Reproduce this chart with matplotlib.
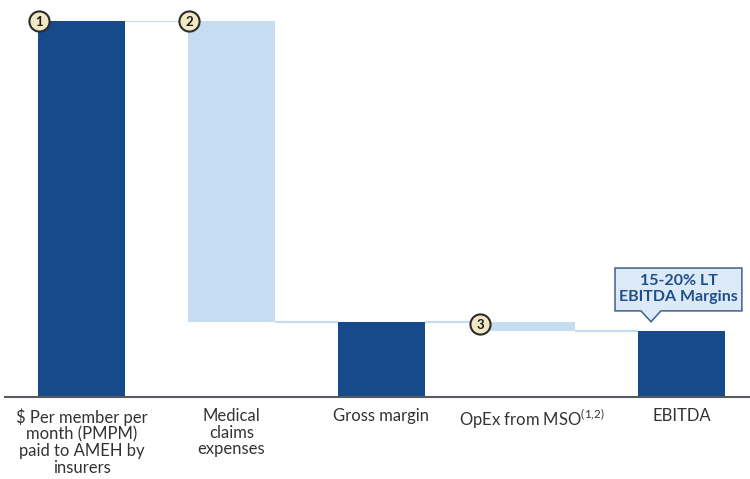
import matplotlib
matplotlib.use("Agg")
import matplotlib.pyplot as plt
from matplotlib.patches import Polygon

plt.rcParams['font.family'] = ['Lato', 'DejaVu Sans']
plt.rcParams['mathtext.fontset'] = 'custom'
plt.rcParams['mathtext.rm'] = 'Lato'
plt.rcParams['mathtext.it'] = 'Lato'

categories = [
    "$ Per member per\nmonth (PMPM)\npaid to AMEH by\ninsurers",
    "Medical\nclaims\nexpenses",
    "Gross margin",
    r"OpEx from MSO$^{\mathrm{(1{,}2)}}$",
    "EBITDA",
]
values = [100, 80, 20, 2.5, 17.5]
kinds = ["total", "decrease", "total", "decrease", "total"]
markers = {0: "1", 1: "2", 3: "3"}
callout_text = "15-20% LT\nEBITDA Margins"

DARK = "#164a8a"
LIGHT = "#c6dcf0"
BAR_W = 0.58

# waterfall bottoms/tops
bottoms, tops = [], []
running = 0
for v, k in zip(values, kinds):
    if k == "total":
        bottoms.append(0)
        tops.append(v)
        running = v
    else:
        bottoms.append(running - v)
        tops.append(running)
        running -= v

fig = plt.figure(figsize=(7.5, 4.79), dpi=100)
ax = fig.add_axes([5 / 750, 82 / 479, 745 / 750, 376 / 479])
ax.set_xlim(-0.51, 4.457)
ax.set_ylim(0, 100)

x = list(range(len(values)))
colors = [DARK if k == "total" else LIGHT for k in kinds]
heights = [t - b for t, b in zip(tops, bottoms)]
ax.bar(x, heights, bottom=bottoms, width=BAR_W, color=colors, zorder=2)

# connector lines between consecutive bars
for i in range(len(values) - 1):
    level = bottoms[i] if kinds[i] == "decrease" else tops[i]
    ax.plot([i + BAR_W / 2, i + 1 - BAR_W / 2], [level, level],
            color=LIGHT, lw=1.6, zorder=1, solid_capstyle="butt")

# numbered circles at bar corners
for i, label in markers.items():
    cx = i - BAR_W / 2 + (0.01 if i < 3 else -0.05)
    cy = tops[i] if i < 3 else tops[i] - 0.6
    ax.plot(cx, cy, marker="o", markersize=14.5, markerfacecolor="#f1e8c4",
            markeredgecolor="#2b2b2b", markeredgewidth=1.5, zorder=5, clip_on=False)
    ax.text(cx, cy, label, ha="center", va="center_baseline", fontsize=9.5,
            fontweight="bold", color="#1a1a1a", zorder=6, clip_on=False)

# callout above EBITDA
bx0, bx1, by0, by1 = 3.557, 4.403, 22.9, 34.3
tip_x, tip_y = 3.797, 20.0
poly = Polygon([(bx0, by0), (bx0, by1), (bx1, by1), (bx1, by0),
                (3.863, by0), (tip_x, tip_y), (3.73, by0)],
               closed=True, facecolor="#dce9f6", edgecolor="#3f5f8a",
               lw=1.1, zorder=4, clip_on=False)
ax.add_patch(poly)
ax.text((bx0 + bx1) / 2, (by0 + by1) / 2 + 0.2, callout_text, ha="center", va="center",
        fontsize=11.5, fontweight="bold", color="#1f4e8c", linespacing=1.15, zorder=5)

ax.set_xticks(x)
ax.set_xticklabels(categories, fontsize=12, color="#333333", linespacing=1.05)
ax.tick_params(axis="x", length=0, pad=8)
ax.set_yticks([])
for s in ["top", "right", "left"]:
    ax.spines[s].set_visible(False)
ax.spines["bottom"].set_color("#555a60")
ax.spines["bottom"].set_linewidth(1.5)

fig.savefig("out.png", dpi=100)
